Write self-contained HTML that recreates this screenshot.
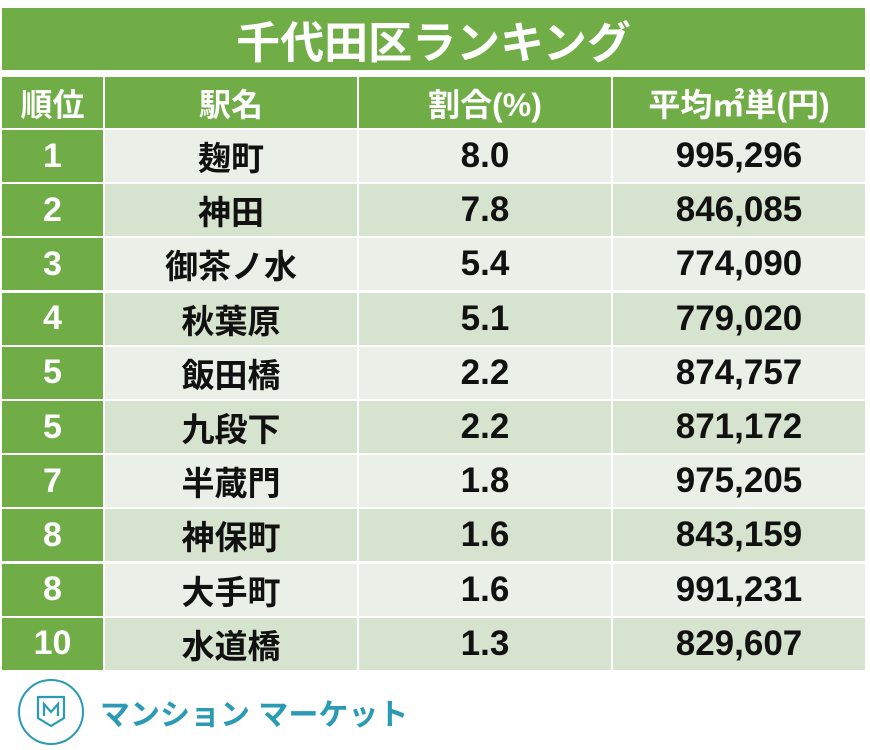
<!DOCTYPE html>
<html><head><meta charset="utf-8"><style>
body{margin:0;width:870px;height:750px;background:#fff;position:relative;overflow:hidden;font-family:"Liberation Sans","Noto Sans CJK JP",sans-serif;font-weight:bold}
.c{position:absolute;display:flex;align-items:center;justify-content:center}
</style></head><body>
<div class="c" style="left:2px;top:8px;width:863px;height:62px;background:#70ad47;color:#fff;font-size:44px">千代田区ランキング</div>
<div id="t"></div>
<div style="position:absolute;left:18px;top:679px;width:62px;height:62px;border:2.5px solid #2a9ab5;border-radius:50%"></div>
<svg style="position:absolute;left:35px;top:694px" width="32" height="36" viewBox="0 0 32 36"><path d="M3 3H29V24L16 32L3 24Z" fill="none" stroke="#2a9ab5" stroke-width="2.2"/><path d="M9 22V10L16 18L23 10V22" fill="none" stroke="#2a9ab5" stroke-width="2.2"/></svg>
<div style="position:absolute;left:100px;top:690px;font-size:30px;color:#2a9ab5;letter-spacing:0px">マンション マーケット</div>
<script>
var d=[["1","麹町","8.0","995,296"],["2","神田","7.8","846,085"],["3","御茶ノ水","5.4","774,090"],["4","秋葉原","5.1","779,020"],["5","飯田橋","2.2","874,757"],["5","九段下","2.2","871,172"],["7","半蔵門","1.8","975,205"],["8","神保町","1.6","843,159"],["8","大手町","1.6","991,231"],["10","水道橋","1.3","829,607"]];
var cols=[[2,101],[105,252],[359,252],[613,252]];
var fs=[34,33,35,35];
var h='';
var hd=["順位","駅名","割合(%)","平均㎡単(円)"];
hd.forEach(function(t,i){h+='<div class="c" style="left:'+cols[i][0]+'px;top:77px;width:'+cols[i][1]+'px;height:51px;background:#70ad47;color:#fff;font-size:32px">'+t+'</div>';});
d.forEach(function(r,j){var top=130+j*54.2;var bg=j%2?'#d6e3cf':'#eaf0e7';
r.forEach(function(t,i){h+='<div class="c" style="left:'+cols[i][0]+'px;top:'+top+'px;width:'+cols[i][1]+'px;height:52px;background:'+(i==0?'#70ad47':bg)+';color:'+(i==0?'#fff':'#111')+';font-size:'+fs[i]+'px">'+t+'</div>';});});
document.getElementById('t').innerHTML=h;
</script>
</body></html>
